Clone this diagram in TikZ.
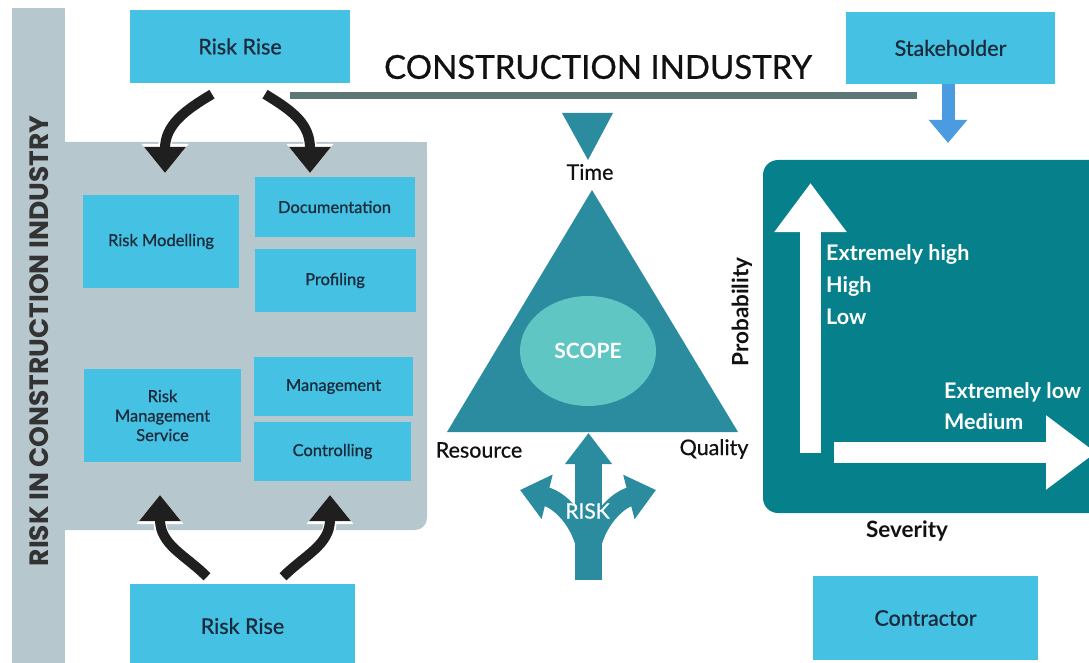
\documentclass[tikz,border=0pt]{standalone}
\usepackage{fontspec}
\setmainfont{Lato}
\newfontfamily\midfont{Lato}[FakeBold=0.7]
\newfontfamily\geofont{Poppins}
\usetikzlibrary{arrows.meta,shapes.geometric}
\definecolor{boxF}{HTML}{44C1E3}
\definecolor{boxT}{HTML}{1B2A3A}
\definecolor{panelF}{HTML}{B7C7CE}
\definecolor{tealF}{HTML}{2B8B9F}
\definecolor{scopeF}{HTML}{5FC6C3}
\definecolor{matF}{HTML}{06808B}
\definecolor{barC}{HTML}{5C7775}
\definecolor{skyC}{HTML}{4A9BE0}
\definecolor{labC}{HTML}{111111}
\tikzset{
  box/.style={fill=boxF, text=boxT, align=center, inner sep=0pt, font=\midfont\fontsize{21.5}{24}\selectfont},
  sub/.style={box, font=\midfont\fontsize{16.5}{19.5}\selectfont},
  lab/.style={text=labC, inner sep=0pt, font=\midfont\fontsize{21.5}{24}\selectfont},
  axis/.style={text=labC, inner sep=0pt, font=\bfseries\fontsize{22.5}{25}\selectfont},
  lvl/.style={text=white, anchor=base west, inner sep=0pt, font=\bfseries\fontsize{21.5}{24}\selectfont},
  curvy/.style={-{Triangle[length=26pt,width=40pt]}, draw=black!88, line width=10pt,
                preaction={draw=white, line width=13pt, -{Triangle[length=29pt,width=45pt]}}},
  forkarr/.style={-{Triangle[length=28pt,width=44pt]}, draw=tealF, line width=19pt},
  white arr/.style={draw=white, line width=21pt},
}
\begin{document}
\begin{tikzpicture}[x=1pt, y=-1pt]
\useasboundingbox (0,0) rectangle (1089,663);
\clip (0,0) rectangle (1089,663);
% grey L-shaped frame, only the lower right corner is rounded
\fill[panelF] (12,8) rectangle (65,663);
\fill[panelF, rounded corners=12pt] (50,142) rectangle (427,530);
\fill[panelF] (50,142) rectangle (400,530);
\fill[panelF] (50,142) rectangle (427,400);
\node[rotate=90, text=black!80, inner sep=0pt, font=\geofont\bfseries\fontsize{26.5}{29}\selectfont] (side) at (39,341) {RISK IN CONSTRUCTION INDUSTRY};
% boxes
\node[box, minimum width=220pt, minimum height=73pt] (rise) at (240,46.5) {Risk Rise};
\node[box, minimum width=225pt, minimum height=84pt] (low) at (242.5,626) {Risk Rise};
\node[box, minimum width=209pt, minimum height=72pt] (stake) at (950.5,48) {Stakeholder};
\node[box, minimum width=225pt, minimum height=84pt] (contr) at (925.5,618) {Contractor};
\node[sub, minimum width=156pt, minimum height=93pt] (model) at (161,241.5) {Risk Modelling};
\node[sub, minimum width=160pt, minimum height=60pt] (doc) at (334.5,207) {Documentation};
\node[sub, minimum width=161pt, minimum height=63pt] (prof) at (335,280.5) {Profiling};
\node[sub, minimum width=157pt, minimum height=93pt] (serv) at (162.5,415.5) {Risk\\Management\\Service};
\node[sub, minimum width=159pt, minimum height=59pt] (mgmt) at (333.5,386.5) {Management};
\node[sub, minimum width=157pt, minimum height=59pt] (ctrl) at (332.5,451.5) {Controlling};
% curved arrows in and out of the frame
\coordinate (modTip) at (165,173);
\coordinate (docTip) at (310,173);
\coordinate (servTip) at (160,495);
\coordinate (ctrlTip) at (330,495);
\draw[curvy] ([xshift=-28pt,yshift=-11pt]rise.south) .. controls +(-27,16) and +(0,-48) .. (modTip);
\draw[curvy] ([xshift=25pt,yshift=-11pt]rise.south) .. controls +(30,18) and +(0,-48) .. (docTip);
\draw[curvy] ([xshift=-35.5pt,yshift=7pt]low.north) .. controls +(-22,-22) and +(0,50) .. (servTip);
\draw[curvy] ([xshift=40.5pt,yshift=7pt]low.north) .. controls +(22,-22) and +(0,50) .. (ctrlTip);
% title and rule
\node[text=labC, inner sep=0pt, font=\midfont\fontsize{33}{37}\selectfont] (title) at (598,67) {CONSTRUCTION INDUSTRY};
\draw[barC, line width=7pt] (290,96) -- (917,96);
% time / resource / quality triangle
\fill[tealF] (562,113) -- (613,113) -- (588,160) -- cycle;
\node[lab] (time) at (590,172) {Time};
\coordinate (apex) at (592,190);
\coordinate (baseL) at (447,432);
\coordinate (baseR) at (738,432);
\coordinate (baseM) at (588.5,433);
\fill[tealF] (apex) -- (baseR) -- (baseL) -- cycle;
\node[ellipse, fill=scopeF, minimum width=136pt, minimum height=110pt, inner sep=0pt, text=white, font=\bfseries\fontsize{21}{24}\selectfont] (scope) at (588,351) {SCOPE};
\node[lab] (res) at (479,450) {Resource};
\node[lab] (qual) at (714,449) {Quality};
% three way risk arrow
\coordinate (foot) at (588.5,580);
\draw[forkarr] (588.5,570) .. controls (588.5,525) and (560,500) .. (520,490);
\draw[forkarr] (588.5,570) .. controls (588.5,525) and (617,500) .. (656,490);
\draw[-{Triangle[length=31pt,width=45pt]}, draw=tealF, line width=27pt] (foot) -- (baseM);
\node[text=white, inner sep=0pt, font=\midfont\fontsize{21}{24}\selectfont] (risk) at (587.5,511) {RISK};
% probability / severity chart
\fill[matF, rounded corners=15pt] (763,160) rectangle (1120,513);
\coordinate (matTop) at (948,143);
\draw[-{Triangle[length=23pt,width=37pt]}, draw=skyC, line width=13pt] (stake.south -| matTop) -- (matTop);
\draw[white arr, -{Triangle[length=49pt,width=69pt]}] (810.5,453) -- (810.5,183);
\draw[white arr, -{Triangle[length=50pt,width=71pt]}] (834,452.5) -- (1096,452.5);
\node[lvl] (xhigh) at (826,260) {Extremely high};
\node[lvl] (high) at (826,292) {High};
\node[lvl] (lowp) at (826,324) {Low};
\node[lvl] (xlow) at (944,398) {Extremely low};
\node[lvl] (med) at (944,429) {Medium};
\node[axis, rotate=90] (prob) at (742,312) {Probability};
\node[axis] (sev) at (907,531) {Severity};
\end{tikzpicture}
\end{document}
